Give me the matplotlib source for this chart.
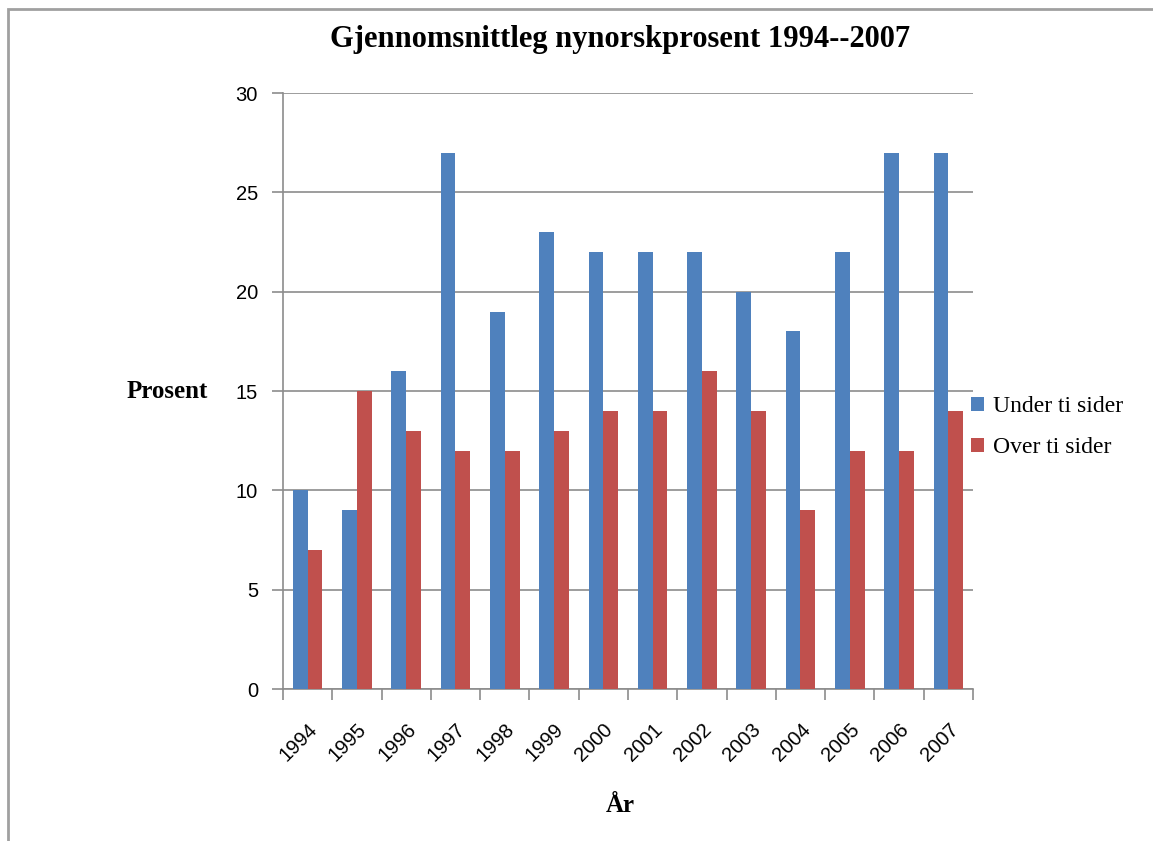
import numpy as np
import matplotlib.pyplot as plt
from matplotlib.patches import Rectangle

# data
years = ['1994', '1995', '1996', '1997', '1998', '1999', '2000',
         '2001', '2002', '2003', '2004', '2005', '2006', '2007']
under = [10, 9, 16, 27, 19, 23, 22, 22, 22, 20, 18, 22, 27, 27]
over = [7, 15, 13, 12, 12, 13, 14, 14, 16, 14, 9, 12, 12, 14]

serif = ['Liberation Serif', 'DejaVu Serif']
sans = ['Liberation Sans', 'DejaVu Sans']

fig = plt.figure(figsize=(11.53, 8.41), dpi=100)
ax = fig.add_axes([0.2454, 0.1807, 0.5985, 0.7087])

# outer chart frame (left and top edges visible)
fig.patches.append(Rectangle((8 / 1153, -0.05), 1.2, 1 - 9 / 841 + 0.05,
                             transform=fig.transFigure, fill=False,
                             edgecolor='#a0a0a0', linewidth=2))

x = np.arange(len(years))
w = 0.3
ax.bar(x - w / 2, under, w, color='#4F81BD', label='Under ti sider', zorder=3)
ax.bar(x + w / 2, over, w, color='#C0504D', label='Over ti sider', zorder=3)

ax.set_xlim(-0.5, len(years) - 0.5)
ax.set_ylim(0, 30)
ax.set_yticks(range(0, 31, 5))
ax.yaxis.grid(True, color='#8c8c8c', linewidth=1.2, zorder=0)

ax.set_xticks(x)
ax.set_xticklabels(years, rotation=45, ha='right', rotation_mode='anchor',
                   fontfamily=sans, fontsize=14.5)
ax.set_xticks(np.arange(-0.5, len(years)), minor=True)
ax.tick_params(axis='x', which='major', length=0, pad=22)
ax.tick_params(axis='x', which='minor', length=8, color='#8c8c8c', width=1.2)
ax.tick_params(axis='y', length=8, color='#8c8c8c', width=1.2, labelsize=14.5, pad=10)
for lab in ax.get_yticklabels():
    lab.set_fontfamily(sans)

for s in ['top', 'right']:
    ax.spines[s].set_visible(False)
for s in ['left', 'bottom']:
    ax.spines[s].set_color('#8c8c8c')
    ax.spines[s].set_linewidth(1.2)

fig.text(0.5375, 1 - 40 / 841, 'Gjennomsnittleg nynorskprosent 1994--2007', ha='center', va='center',
         fontfamily=serif, fontweight='bold', fontsize=22)
fig.text(167 / 1153, 1 - 392 / 841, 'Prosent', ha='center', va='center',
         fontfamily=serif, fontweight='bold', fontsize=18)
fig.text(620 / 1153, 1 - 805 / 841, 'År', ha='center', va='center',
         fontfamily=serif, fontweight='bold', fontsize=18)

fig.legend(loc='center left', bbox_to_anchor=(0.824, 1 - 427 / 841),
           frameon=False, prop={'family': serif, 'size': 17},
           handlelength=0.55, handleheight=0.55, handletextpad=0.35, labelspacing=0.85)

fig.savefig('out.png', dpi=100)
